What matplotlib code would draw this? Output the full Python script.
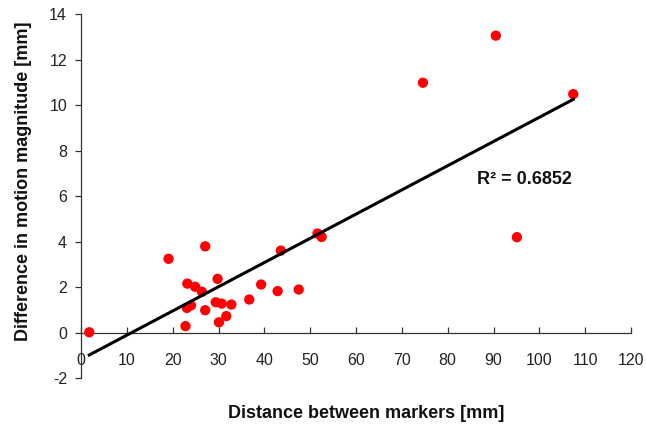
import matplotlib
matplotlib.use("Agg")
import matplotlib.pyplot as plt

plt.rcParams['font.family'] = ['Liberation Sans', 'DejaVu Sans']

# Distance between marker pairs [mm] and the difference in motion magnitude [mm]
distance = [1.8, 19.1, 27.1, 23.2, 24.9, 26.4, 29.8, 39.3, 42.9, 47.5, 43.6,
            51.6, 52.5, 23.1, 24.0, 27.1, 29.4, 30.7, 32.8, 36.7, 22.8, 30.1,
            31.7, 90.5, 74.6, 107.4, 95.1]
difference = [0.01, 3.24, 3.79, 2.15, 2.01, 1.79, 2.36, 2.11, 1.82, 1.89, 3.60,
              4.35, 4.20, 1.08, 1.19, 0.98, 1.33, 1.27, 1.23, 1.45, 0.28, 0.45,
              0.72, 13.05, 10.98, 10.48, 4.19]

# Linear trend line
slope = 0.1064
intercept = -1.18
r_squared = 0.6852

x_ticks = list(range(0, 121, 10))
y_ticks = list(range(-2, 15, 2))

fig = plt.figure(figsize=(6.46, 4.30), dpi=100)
ax = fig.add_axes([0.1254, 0.1209, 0.8514, 0.8465])

ax.scatter(distance, difference, s=55, color='#ff0000', edgecolors='none', zorder=3)

x0, x1 = min(distance), max(distance)
ax.plot([x0, x1], [slope * x0 + intercept, slope * x1 + intercept],
        color='black', linewidth=2.2, zorder=4)

ax.text(86.3, 6.72, 'R\u00b2 = %.4f' % r_squared, fontsize=13,
        fontweight='bold', va='center', ha='left', zorder=5, color='#111111')

ax.set_xlim(0, 120)
ax.set_ylim(-2, 14)
ax.set_xticks(x_ticks)
ax.set_yticks(y_ticks)
ax.set_xticklabels([str(t) for t in x_ticks])
ax.set_yticklabels([str(t) for t in y_ticks])

ax.spines['top'].set_visible(False)
ax.spines['right'].set_visible(False)
ax.spines['bottom'].set_position(('data', 0))
for s in ('left', 'bottom'):
    ax.spines[s].set_color('#333333')
    ax.spines[s].set_linewidth(0.9)

ax.tick_params(axis='x', direction='in', length=4, width=0.9, color='#333333',
               labelsize=11.5, pad=15, labelcolor='#222222')
ax.tick_params(axis='y', direction='out', length=4, width=0.9, color='#333333',
               labelsize=11.5, pad=6, labelcolor='#222222')

fig.text(0.5666, 0.0395, 'Distance between markers [mm]', fontsize=13,
         fontweight='bold', ha='center', va='center', color='#111111')
fig.text(0.036, 0.578, 'Difference in motion magnitude [mm]', fontsize=13,
         fontweight='bold', ha='center', va='center', rotation=90, color='#111111')

fig.savefig('out.png', dpi=100)
